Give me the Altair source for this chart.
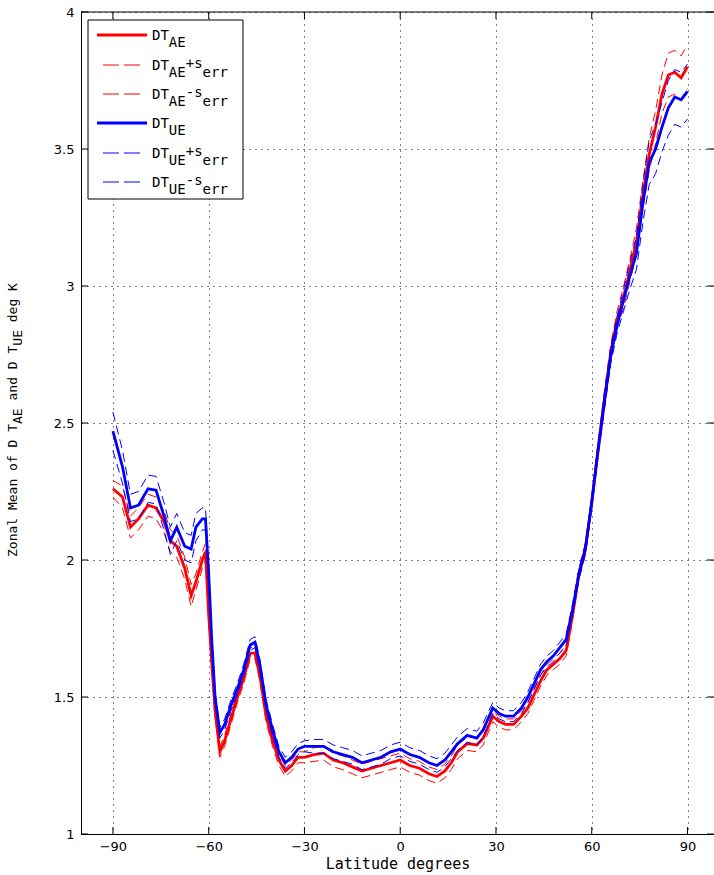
import altair as alt
import pandas as pd

# ---------------------------------------------------------------------------
# Zonal mean temperature change (K) versus latitude, two estimates with +/- 1 s
# ---------------------------------------------------------------------------
lat = [-90, -87, -84.5, -82, -79, -76.5, -74, -72, -70, -67.5,
       -65.5, -64, -62, -61, -60, -59, -58, -56.5, -55, -53,
       -51, -49, -47, -45.5, -44, -42, -40, -38, -36, -34,
       -32, -30, -27, -24, -21, -18, -15, -12, -9, -6,
       -3, 0, 3, 6, 9, 11.5, 14, 16, 18, 21,
       24, 26, 29, 31, 33, 35.5, 38, 40, 42, 44,
       46, 48, 50, 52, 54, 56, 58, 60, 62, 64,
       66, 68, 70, 72, 74, 76, 78, 80, 82, 84,
       86, 88, 90]

dt_ae = [2.26, 2.23, 2.12, 2.15, 2.20, 2.19, 2.14, 2.07, 2.05, 1.97,
         1.87, 1.92, 2.00, 2.03, 1.80, 1.62, 1.45, 1.30, 1.34, 1.42,
         1.50, 1.57, 1.66, 1.66, 1.58, 1.43, 1.34, 1.27, 1.23, 1.25,
         1.28, 1.28, 1.29, 1.295, 1.27, 1.26, 1.245, 1.23, 1.24, 1.25,
         1.26, 1.27, 1.25, 1.24, 1.22, 1.21, 1.23, 1.26, 1.30, 1.33,
         1.325, 1.35, 1.43, 1.41, 1.40, 1.40, 1.43, 1.46, 1.51, 1.56,
         1.60, 1.62, 1.64, 1.67, 1.80, 1.95, 2.04, 2.21, 2.41, 2.59,
         2.76, 2.88, 2.96, 3.06, 3.16, 3.33, 3.48, 3.58, 3.70, 3.77,
         3.78, 3.76, 3.80]

err_ae = [0.03, 0.04, 0.04, 0.04, 0.04, 0.04, 0.04, 0.04, 0.04, 0.04,
          0.04, 0.03, 0.03, 0.03, 0.02, 0.02, 0.02, 0.02, 0.02, 0.02,
          0.02, 0.02, 0.02, 0.02, 0.02, 0.02, 0.02, 0.02, 0.02, 0.02,
          0.02, 0.02, 0.025, 0.025, 0.025, 0.025, 0.025, 0.025, 0.025, 0.025,
          0.025, 0.025, 0.025, 0.025, 0.025, 0.025, 0.025, 0.025, 0.025, 0.025,
          0.025, 0.025, 0.02, 0.02, 0.02, 0.02, 0.02, 0.02, 0.02, 0.02,
          0.02, 0.02, 0.02, 0.02, 0.02, 0.02, 0.02, 0.02, 0.02, 0.03,
          0.03, 0.03, 0.04, 0.04, 0.05, 0.05, 0.06, 0.06, 0.07, 0.08,
          0.08, 0.08, 0.08]

dt_ue = [2.47, 2.34, 2.19, 2.20, 2.26, 2.255, 2.16, 2.07, 2.12, 2.05,
         2.04, 2.12, 2.15, 2.15, 1.95, 1.70, 1.50, 1.37, 1.40, 1.47,
         1.53, 1.60, 1.69, 1.70, 1.62, 1.47, 1.38, 1.30, 1.26, 1.28,
         1.31, 1.32, 1.32, 1.32, 1.30, 1.29, 1.28, 1.26, 1.27, 1.28,
         1.30, 1.31, 1.29, 1.28, 1.26, 1.25, 1.27, 1.30, 1.33, 1.36,
         1.35, 1.38, 1.46, 1.44, 1.43, 1.43, 1.46, 1.50, 1.55, 1.60,
         1.63, 1.65, 1.68, 1.71, 1.82, 1.95, 2.04, 2.21, 2.40, 2.58,
         2.75, 2.86, 2.95, 3.04, 3.12, 3.30, 3.45, 3.50, 3.58, 3.65,
         3.69, 3.68, 3.71]

err_ue = [0.07, 0.06, 0.05, 0.05, 0.05, 0.05, 0.05, 0.05, 0.05, 0.05,
          0.05, 0.05, 0.04, 0.04, 0.03, 0.02, 0.02, 0.02, 0.02, 0.02,
          0.02, 0.02, 0.02, 0.02, 0.02, 0.02, 0.02, 0.02, 0.02, 0.02,
          0.02, 0.02, 0.025, 0.025, 0.025, 0.025, 0.025, 0.025, 0.025, 0.025,
          0.025, 0.025, 0.025, 0.025, 0.025, 0.025, 0.025, 0.025, 0.025, 0.025,
          0.025, 0.025, 0.02, 0.02, 0.02, 0.02, 0.02, 0.02, 0.02, 0.02,
          0.02, 0.02, 0.02, 0.02, 0.02, 0.02, 0.02, 0.02, 0.02, 0.03,
          0.03, 0.03, 0.04, 0.05, 0.06, 0.07, 0.08, 0.09, 0.09, 0.10,
          0.10, 0.10, 0.10]

x_ticks = [-90, -60, -30, 0, 30, 60, 90]
y_ticks = [1, 1.5, 2, 2.5, 3, 3.5, 4]

# legend entries: (subscript, superscript, colour key, dashed)
legend_entries = [("AE", "", "ae", False), ("AE", "+s", "ae", True), ("AE", "-s", "ae", True),
                  ("UE", "", "ue", False), ("UE", "+s", "ue", True), ("UE", "-s", "ue", True)]

RED = "#ff0000"
BLUE = "#0000ff"
COLORS = {"ae": RED, "ue": BLUE}

# long table: mean curve and mean +/- s_err for each estimate
rows = []
for key, mean, err in (("ae", dt_ae, err_ae), ("ue", dt_ue, err_ue)):
    for la, m, e in zip(lat, mean, err):
        rows.append({"lat": la, "value": m, "series": key})
        rows.append({"lat": la, "value": round(m + e, 4), "series": key + "_hi"})
        rows.append({"lat": la, "value": round(m - e, 4), "series": key + "_lo"})
df = pd.DataFrame(rows)

W, H = 633, 822
LEFT, TOP = 81, 12
one = pd.DataFrame({"k": [0]})

grid_dash = [1, 5]
x_enc = alt.X(
    "lat:Q",
    scale=alt.Scale(domain=[-100, 98.3], nice=False, zero=False),
    axis=alt.Axis(values=x_ticks, format="d", title="Latitude degrees",
                  grid=True, gridDash=grid_dash, gridColor="black", gridOpacity=1, gridWidth=1,
                  domain=True, domainColor="black", domainWidth=1,
                  ticks=False, tickSize=0, labelPadding=6, labelFlush=False,
                  labelFont="DejaVu Sans", labelFontSize=13, labelColor="black",
                  titleFont="DejaVu Sans Mono", titleFontSize=15, titleFontWeight="normal",
                  titleColor="black", titlePadding=3),
)
y_enc = alt.Y(
    "value:Q",
    scale=alt.Scale(domain=[1, 4], nice=False, zero=False),
    axis=alt.Axis(values=y_ticks, format="~g", title=None,
                  grid=True, gridDash=grid_dash, gridColor="black", gridOpacity=1, gridWidth=1,
                  domain=True, domainColor="black", domainWidth=1,
                  ticks=False, tickSize=0, labelPadding=7, labelFlush=False,
                  labelFont="DejaVu Sans", labelFontSize=13, labelColor="black"),
)

layers = []


def curve(key, color, dashed):
    c = alt.Chart(df).transform_filter(alt.datum.series == key)
    if dashed:
        c = c.mark_line(color=color, strokeWidth=1, strokeDash=[9, 5])
    else:
        c = c.mark_line(color=color, strokeWidth=2.8)
    return c.encode(x=x_enc, y=y_enc)


for key in ("ae", "ue"):
    layers.append(curve(key, COLORS[key], False))
    layers.append(curve(key + "_hi", COLORS[key], True))
    layers.append(curve(key + "_lo", COLORS[key], True))

# inward tick marks on all four sides, and the top frame line
xt = pd.DataFrame({"lat": x_ticks})
yt = pd.DataFrame({"value": y_ticks})
TL = 7
layers.append(alt.Chart(xt).mark_rule(color="black").encode(x=x_enc, y=alt.value(H), y2=alt.value(H - TL)))
layers.append(alt.Chart(xt).mark_rule(color="black").encode(x=x_enc, y=alt.value(0), y2=alt.value(TL)))
layers.append(alt.Chart(yt).mark_rule(color="black").encode(y=y_enc, x=alt.value(0), x2=alt.value(TL)))
layers.append(alt.Chart(yt).mark_rule(color="black").encode(y=y_enc, x=alt.value(W - TL), x2=alt.value(W)))
layers.append(alt.Chart(one).mark_rule(color="black").encode(x=alt.value(0), x2=alt.value(W), y=alt.value(0)))


def text(s, x, y, size, font, color="black", angle=0):
    return alt.Chart(one).mark_text(
        text=s, font=font, fontSize=size, align="left", baseline="alphabetic",
        angle=angle, color=color,
    ).encode(x=alt.value(x), y=alt.value(y))


# legend box
layers.append(alt.Chart(one).mark_rect(fill="white", stroke="black", strokeWidth=1).encode(
    x=alt.value(7), x2=alt.value(162), y=alt.value(8), y2=alt.value(187)))

LEG_FONT = "DejaVu Sans Mono"
LEG_SIZE = 14
CH = 0.602 * LEG_SIZE
row_y = [23, 53, 82, 111, 141, 170]
for (sub, sup, ckey, dashed), ry in zip(legend_entries, row_y):
    col = COLORS[ckey]
    if dashed:
        layers.append(alt.Chart(one).mark_rule(color=col, strokeWidth=1, strokeDash=[16, 5]).encode(
            x=alt.value(22), x2=alt.value(60), y=alt.value(ry)))
    else:
        layers.append(alt.Chart(one).mark_rule(color=col, strokeWidth=3).encode(
            x=alt.value(16), x2=alt.value(66), y=alt.value(ry)))
    tx = 71
    layers.append(text("DT", tx, ry + 5, LEG_SIZE, LEG_FONT))
    tx += 2 * CH
    layers.append(text(sub, tx, ry + 12, LEG_SIZE, LEG_FONT))
    tx += len(sub) * CH
    if sup:
        layers.append(text(sup, tx, ry + 3, LEG_SIZE, LEG_FONT))
        tx += len(sup) * CH
        layers.append(text("err", tx, ry + 12, LEG_SIZE, LEG_FONT))

# rotated y-axis title with subscripts, laid out piece by piece (monospaced advance)
YL_SIZE = 13
YL_CH = 0.602 * YL_SIZE
ylabel_parts = [("Zonal Mean of D T", False), ("AE", True), (" and D T", False),
                ("UE", True), (" deg K", False)]
yy = 557 - TOP
for s, is_sub in ylabel_parts:
    xb = (22 if is_sub else 17) - LEFT
    layers.append(text(s.strip(), xb, yy - (YL_CH if s.startswith(" ") else 0),
                       YL_SIZE, "DejaVu Sans Mono", angle=270))
    yy -= len(s) * YL_CH

chart = alt.layer(*layers).properties(
    width=W,
    height=H,
    padding={"left": LEFT, "top": TOP, "right": 0, "bottom": 41},
    autosize=alt.AutoSizeParams(type="none"),
    background="white",
).configure_view(strokeWidth=0)

chart.save("out.html", embed_options={"renderer": "svg", "actions": False})
